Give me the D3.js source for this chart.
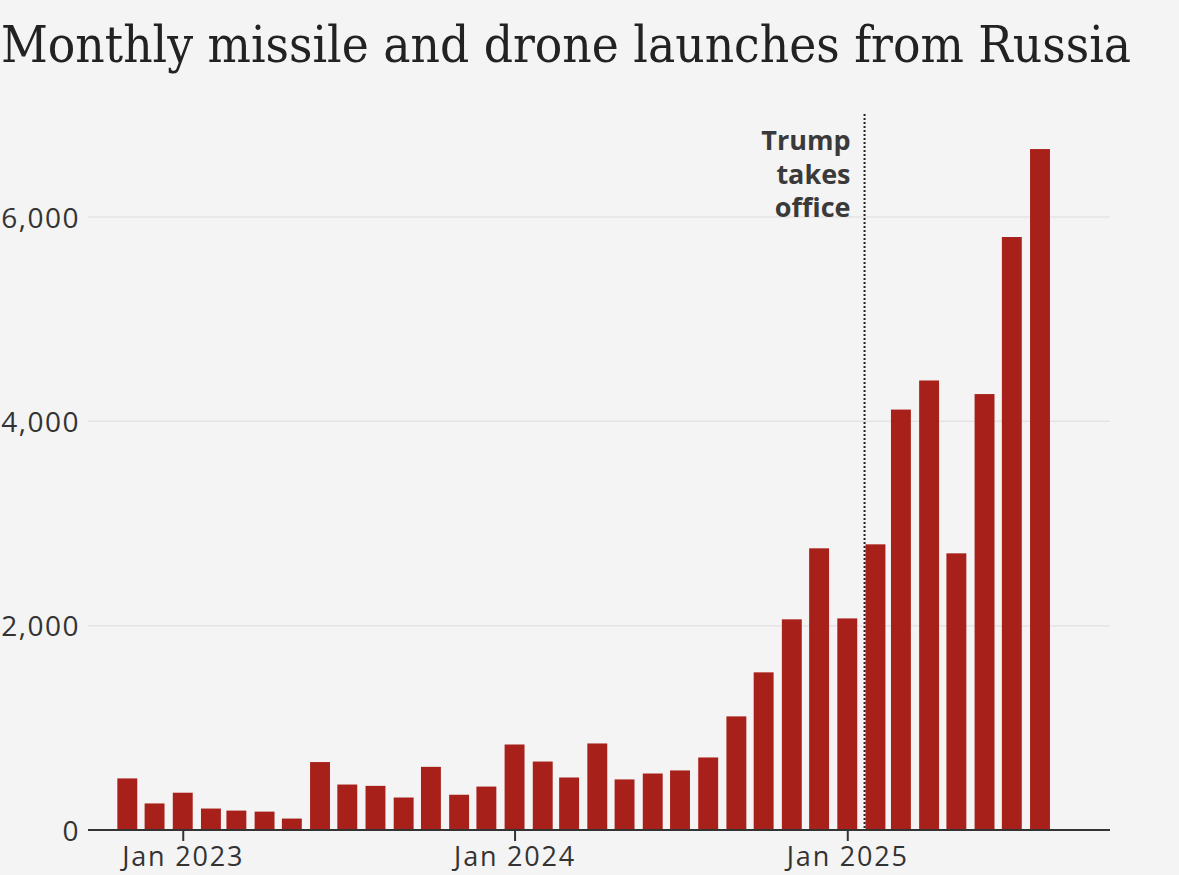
<!DOCTYPE html>
<html>
<head>
<meta charset="utf-8">
<script src="https://cdn.jsdelivr.net/npm/d3@7"></script>
<style>
  html, body { margin: 0; padding: 0; background: #f4f4f4; }
  svg { display: block; }
</style>
</head>
<body>
<script>
// ---- Data ----
const months = [
  "2022-11","2022-12",
  "2023-01","2023-02","2023-03","2023-04","2023-05","2023-06",
  "2023-07","2023-08","2023-09","2023-10","2023-11","2023-12",
  "2024-01","2024-02","2024-03","2024-04","2024-05","2024-06",
  "2024-07","2024-08","2024-09","2024-10","2024-11","2024-12",
  "2025-01","2025-02","2025-03","2025-04","2025-05","2025-06",
  "2025-07","2025-08"
];
const launches = [
  505, 260,
  365, 210, 190, 180, 112, 665,
  445, 432, 318, 618, 345, 425,
  837, 670, 514, 847, 495, 553,
  583, 710, 1112, 1543, 2062, 2757,
  2071, 2796, 4115, 4400, 2708, 4267,
  5804, 6665
];
const yTicks = [0, 2000, 4000, 6000];
const xTickDates = ["2023-01-01", "2024-01-01", "2025-01-01"];
const xTickLabels = ["Jan 2023", "Jan 2024", "Jan 2025"];
const titleText = "Monthly missile and drone launches from Russia";
const eventDate = "2025-01-20";
const eventLabel = ["Trump", "takes", "office"];

// ---- Layout ----
const W = 1179, H = 875;
const plotLeft = 88, plotRight = 1110;
const yTop = 217, yBase = 830;
const parseMonth = d3.timeParse("%Y-%m");
const parseDay = d3.timeParse("%Y-%m-%d");
const dates = months.map(parseMonth);

const svg = d3.select("body").append("svg")
  .attr("width", W).attr("height", H);

svg.append("rect").attr("width", W).attr("height", H).attr("fill", "#f4f4f4");

// Title
svg.append("text")
  .attr("x", 1).attr("y", 62)
  .attr("textLength", 1130)
  .attr("lengthAdjust", "spacingAndGlyphs")
  .style("font-family", "'DejaVu Serif Condensed', 'DejaVu Serif', serif")
  .style("font-stretch", "condensed")
  .style("font-size", "50px")
  .style("fill", "#222")
  .text(titleText);

// Scales
const x = d3.scaleTime()
  .domain([dates[0], dates[dates.length - 1]])
  .range([plotLeft + 39.3, plotRight - 70]);
const y = d3.scaleLinear().domain([0, 6000]).range([yBase, yTop]);

const step = (x(dates[dates.length - 1]) - x(dates[0])) / (dates.length - 1);
const barW = step * 0.72;

// Y axis labels
const yAxis = d3.axisLeft(y).tickValues(yTicks)
  .tickFormat(d3.format(",")).tickSize(0).tickPadding(8);
const gy = svg.append("g").attr("transform", `translate(${plotLeft},0)`).call(yAxis);
gy.select(".domain").remove();
gy.selectAll("text")
  .attr("dy", "0.36em")
  .style("font-family", "'Open Sans', sans-serif")
  .style("font-size", "28px")
  .style("letter-spacing", "1.5px")
  .style("fill", "#333");

// Gridlines
svg.append("g").selectAll("line")
  .data(yTicks.filter(d => d > 0))
  .join("line")
  .attr("x1", plotLeft).attr("x2", plotRight)
  .attr("y1", d => y(d)).attr("y2", d => y(d))
  .attr("stroke", "#e4e4e4").attr("stroke-width", 1.5);

// Bars
svg.append("g").selectAll("rect")
  .data(launches)
  .join("rect")
  .attr("x", (d, i) => x(dates[i]) - barW / 2)
  .attr("width", barW)
  .attr("y", d => y(d))
  .attr("height", d => yBase - y(d))
  .attr("fill", "#a8201a");

// X axis
const xAxis = d3.axisBottom(x)
  .tickValues(xTickDates.map(parseDay))
  .tickFormat((d, i) => xTickLabels[i])
  .tickSize(11).tickPadding(6);
const gx = svg.append("g").attr("transform", `translate(0,${yBase})`).call(xAxis);
gx.select(".domain").remove();
gx.selectAll(".tick line").attr("stroke", "#333").attr("stroke-width", 2);
gx.selectAll("text")
  .attr("dy", "0.71em")
  .style("font-family", "'Open Sans', sans-serif")
  .style("font-size", "27px")
  .style("letter-spacing", "1.8px")
  .style("fill", "#333");

svg.append("line")
  .attr("x1", plotLeft).attr("x2", plotRight)
  .attr("y1", yBase).attr("y2", yBase)
  .attr("stroke", "#333").attr("stroke-width", 2);

// Event line
const ex = x(parseDay(eventDate));
svg.append("line")
  .attr("x1", ex).attr("x2", ex)
  .attr("y1", 114).attr("y2", yBase)
  .attr("stroke", "#222").attr("stroke-width", 2)
  .attr("stroke-dasharray", "2,2");

svg.append("g").selectAll("text")
  .data(eventLabel)
  .join("text")
  .attr("x", ex - 14)
  .attr("y", (d, i) => 150 + i * 33.5)
  .attr("text-anchor", "end")
  .style("font-family", "'Open Sans', sans-serif")
  .style("font-weight", "700")
  .style("font-size", "27px")
  .style("fill", "#3a3a3a")
  .text(d => d);
</script>
</body>
</html>
